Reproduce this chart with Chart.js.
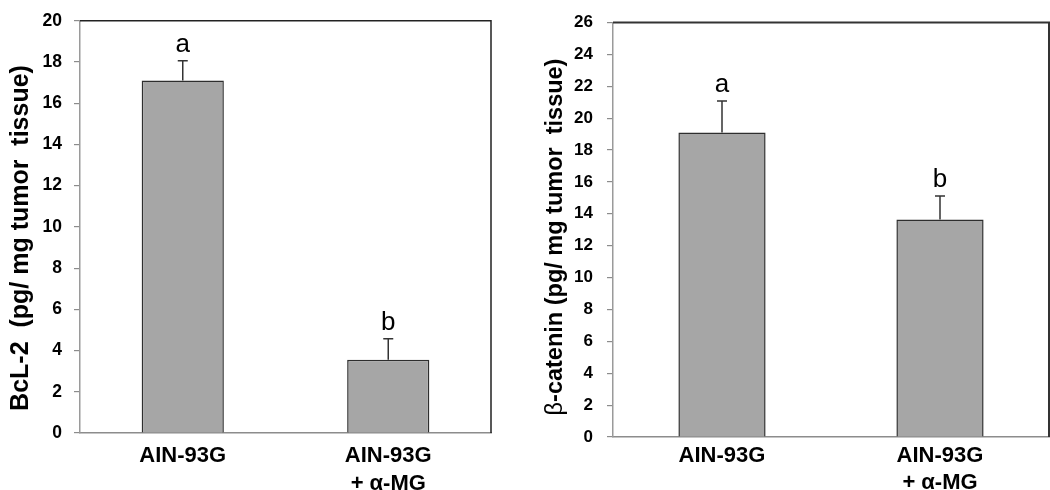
<!DOCTYPE html>
<html><head><meta charset="utf-8">
<script src="https://cdn.jsdelivr.net/npm/chart.js@4"></script>
<style>
html,body{margin:0;padding:0;background:#fff;overflow:hidden}
#wrap{position:relative;width:1050px;height:490px;background:#fff}
canvas{position:absolute;top:0}
</style></head><body>
<div id="wrap">
<canvas id="c1" width="525" height="490" style="left:0"></canvas>
<canvas id="c2" width="525" height="490" style="left:525px"></canvas>
</div>
<script>
// ---- data ----
const groupLabels = [['AIN-93G'], ['AIN-93G', '+ α-MG']];
const bcl2Means = [17.1, 3.55];
const bcl2Errors = [0.96, 1.02];
const bcl2Letters = ['a', 'b'];
const bcl2AxisMin = 0, bcl2AxisMax = 20, bcl2AxisStep = 2;
const bcl2TitleParts = [['BcL-2  (pg/ mg tumor  tissue)', 'bold']];

const catMeans = [19.1, 13.65];
const catErrors = [1.98, 1.46];
const catLetters = ['a', 'b'];
const catAxisMin = 0, catAxisMax = 26, catAxisStep = 2;
const catTitleParts = [['β', 'normal'], ['-catenin (pg/ mg tumor  tissue)', 'bold']];

const FONT = '"Liberation Sans", Arial, sans-serif';

function extrasPlugin(cfg) {
  return {
    id: 'extras',
    afterDatasetsDraw(chart) {
      const ctx = chart.ctx, y = chart.scales.y, ca = chart.chartArea;
      const meta = chart.getDatasetMeta(0);
      ctx.save();
      // top / right frame
      ctx.strokeStyle = cfg.frameColor; ctx.lineWidth = cfg.frameWidth;
      ctx.beginPath();
      ctx.moveTo(ca.left, ca.top); ctx.lineTo(ca.right, ca.top); ctx.lineTo(ca.right, ca.bottom);
      ctx.stroke();
      // error bars and letters
      meta.data.forEach((bar, i) => {
        const base = y.getPixelForValue(cfg.means[i]);
        const top = y.getPixelForValue(cfg.means[i] + cfg.errors[i]);
        ctx.strokeStyle = '#333'; ctx.lineWidth = 1.5;
        ctx.beginPath();
        ctx.moveTo(bar.x, base); ctx.lineTo(bar.x, top);
        ctx.moveTo(bar.x - 5, top); ctx.lineTo(bar.x + 5, top);
        ctx.stroke();
        ctx.fillStyle = '#000';
        ctx.font = '26px ' + FONT;
        ctx.textAlign = 'center'; ctx.textBaseline = 'alphabetic';
        ctx.fillText(cfg.letters[i], bar.x, top - 9);
      });
      // y title
      ctx.translate(cfg.titleX, cfg.titleY);
      ctx.rotate(-Math.PI / 2);
      ctx.textBaseline = 'middle'; ctx.textAlign = 'left';
      let total = 0;
      const widths = cfg.titleParts.map(([t, w]) => {
        ctx.font = w + ' ' + cfg.titleSize + 'px ' + FONT;
        const m = ctx.measureText(t).width; total += m; return m;
      });
      let xx = -total / 2;
      cfg.titleParts.forEach(([t, w], i) => {
        ctx.font = w + ' ' + cfg.titleSize + 'px ' + FONT;
        ctx.fillText(t, xx, 0);
        xx += widths[i];
      });
      ctx.restore();
    }
  };
}

function makeChart(id, cfg) {
  return new Chart(document.getElementById(id), {
    type: 'bar',
    data: {
      labels: groupLabels,
      datasets: [{
        data: cfg.means,
        backgroundColor: '#a6a6a6',
        borderColor: '#2e2e2e',
        borderWidth: 1.5,
        barPercentage: 0.4,
        categoryPercentage: 1.0
      }]
    },
    options: {
      responsive: false,
      animation: false,
      devicePixelRatio: 1,
      layout: { padding: { left: 0, right: cfg.padRight, top: cfg.padTop, bottom: 0 } },
      plugins: { legend: { display: false }, tooltip: { enabled: false } },
      scales: {
        x: {
          grid: { display: false },
          border: { display: true, color: '#8c8c8c', width: 1.5 },
          ticks: {
            color: '#000', padding: cfg.xPad, maxRotation: 0,
            font: { family: FONT, size: 22, weight: 'bold', lineHeight: cfg.xLh }
          },
          afterFit: s => { s.height = cfg.xHeight; }
        },
        y: {
          min: cfg.min, max: cfg.max,
          grid: { drawOnChartArea: false, drawTicks: true, tickLength: 6, color: '#8c8c8c', lineWidth: 1.2 },
          border: { display: true, color: '#9a9a9a', width: 1.5 },
          ticks: {
            stepSize: cfg.step, color: '#000', padding: cfg.yPad,
            font: { family: FONT, size: cfg.yFont, weight: 'bold', lineHeight: 1 }
          },
          afterFit: s => { s.width = cfg.yWidth; }
        }
      }
    },
    plugins: [extrasPlugin(cfg)]
  });
}

makeChart('c1', {
  means: bcl2Means, errors: bcl2Errors, letters: bcl2Letters,
  min: bcl2AxisMin, max: bcl2AxisMax, step: bcl2AxisStep,
  titleParts: bcl2TitleParts, titleSize: 25, titleX: 21, titleY: 238,
  padRight: 34, padTop: 16, xHeight: 57, yWidth: 80, xPad: 1, xLh: 1.27, yPad: 12, yFont: 17.5,
  frameColor: '#222', frameWidth: 1.5
});

makeChart('c2', {
  means: catMeans, errors: catErrors, letters: catLetters,
  min: catAxisMin, max: catAxisMax, step: catAxisStep,
  titleParts: catTitleParts, titleSize: 23.5, titleX: 30.5, titleY: 237,
  padRight: 1, padTop: 9, xHeight: 53, yWidth: 88, xPad: -2, xLh: 1.2, yPad: 14, yFont: 17,
  frameColor: '#333', frameWidth: 2
});
</script>
</body></html>
